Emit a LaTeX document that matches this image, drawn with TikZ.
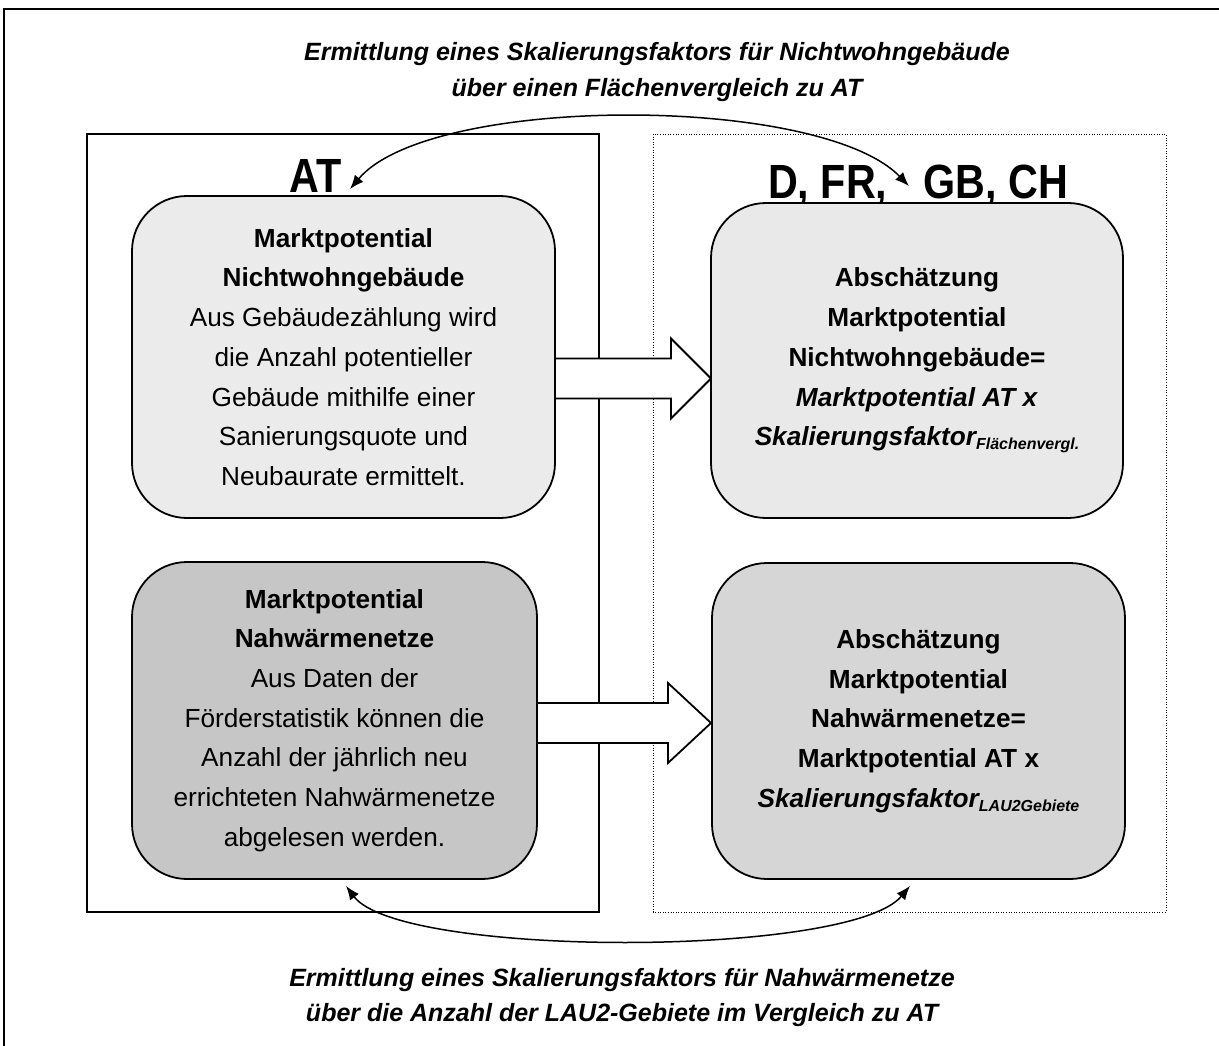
\documentclass[tikz,border=0pt]{standalone}
\usepackage{fontspec}
\setmainfont{Liberation Sans}
\newfontfamily\narrowbold[FakeStretch=0.86]{Liberation Sans Bold}
\usetikzlibrary{arrows.meta}
\definecolor{fillA}{RGB}{235,235,235}
\definecolor{fillB}{RGB}{233,233,233}
\definecolor{fillC}{RGB}{198,198,198}
\definecolor{fillD}{RGB}{214,214,214}
\tikzset{
  box/.style={draw=black, line width=1.8pt, rounded corners=55pt, inner sep=0pt,
    align=center, font=\fontsize{26.2}{39.7}\selectfont},
  biglabel/.style={font=\narrowbold\fontsize{48}{52}\selectfont, inner sep=0pt},
  titletext/.style={font=\bfseries\itshape\fontsize{25}{38}\selectfont, align=center, inner sep=0pt},
  hollow/.style={draw=black, fill=white, line width=1.8pt, line join=miter},
  link/.style={line width=1.5pt, {Latex[length=14pt,width=11pt]}-{Latex[length=14pt,width=11pt]}},
}
\begin{document}
\begin{tikzpicture}[x=1pt,y=-1pt]
\clip (0,0) rectangle (1219,1046);
\useasboundingbox (0,0) rectangle (1219,1046);
% outer frame (extends beyond page)
\draw[line width=2.5pt] (4,1080) -- (4,9) -- (1260,9);
% group frames
\draw[line width=1.8pt] (87,134) rectangle (599,912);
\draw[line width=0.9pt, dash pattern=on 1pt off 1.6pt] (653,134) rectangle (1166,912);
% titles
\node[titletext, anchor=base] (t1) at (657,61) {Ermittlung eines Skalierungsfaktors für Nichtwohngebäude};
\node[titletext, anchor=base] (t2) at (657,97) {über einen Flächenvergleich zu AT};
\node[titletext, anchor=base] (t3) at (622,986) {Ermittlung eines Skalierungsfaktors für Nahwärmenetze};
\node[titletext, anchor=base] (t4) at (622,1021) {über die Anzahl der LAU2-Gebiete im Vergleich zu AT};
% labels
\node[biglabel, anchor=base] (at) at (315.5,193) {AT};
\node[biglabel, anchor=base] (dl) at (918,198) {D, FR,\hspace{36pt}GB, CH};
% box centres
\coordinate (b1c) at (343.5,357);
\coordinate (b2c) at (917,360.5);
\coordinate (b3c) at (334.5,720.5);
\coordinate (b4c) at (918.5,721);
% hollow arrows (drawn below boxes)
\coordinate (tip1) at (711,378.5);
\coordinate (tip2) at (711,723);
\draw[hollow] (tip1) -- ++(-40,-40) -- ++(0,20) -- ++(-140,0) -- ++(0,40) -- ++(140,0) -- ++(0,20) -- cycle;
\draw[hollow] (tip2) -- ++(-43,-40) -- ++(0,20) -- ++(-150,0) -- ++(0,40) -- ++(150,0) -- ++(0,20) -- cycle;
% boxes
\node[box, fill=fillA, minimum width=423pt, minimum height=322pt] (b1) at (b1c)
  {\textbf{Marktpotential}\\ \textbf{Nichtwohngebäude}\\ Aus Gebäudezählung wird\\ die Anzahl potentieller\\ Gebäude mithilfe einer\\ Sanierungsquote und\\ Neubaurate ermittelt.};
\node[box, fill=fillB, minimum width=412pt, minimum height=315pt] (b2) at (b2c)
  {\textbf{Abschätzung}\\ \textbf{Marktpotential}\\ \textbf{Nichtwohngebäude=}\\ \textbf{\itshape Marktpotential AT x}\\ \textbf{\itshape Skalierungsfaktor\raisebox{-4pt}{\fontsize{16}{16}\selectfont Flächenvergl.}}};
\node[box, fill=fillC, minimum width=405pt, minimum height=317pt] (b3) at (b3c)
  {\textbf{Marktpotential}\\ \textbf{Nahwärmenetze}\\ Aus Daten der\\ Förderstatistik können die\\ Anzahl der jährlich neu\\ errichteten Nahwärmenetze\\ abgelesen werden.};
\node[box, fill=fillD, minimum width=413pt, minimum height=316pt] (b4) at (b4c)
  {\textbf{Abschätzung}\\ \textbf{Marktpotential}\\ \textbf{Nahwärmenetze=}\\ \textbf{Marktpotential AT x}\\ \textbf{\itshape Skalierungsfaktor\raisebox{-4pt}{\fontsize{16}{16}\selectfont LAU2Gebiete}}};
% curved double arrows
\coordinate (e1) at ([xshift=6.5pt,yshift=6pt]b1.north);
\coordinate (e2) at ([xshift=-8pt,yshift=16pt]b2.north);
\coordinate (e3) at ([xshift=11.5pt,yshift=-6pt]b3.south);
\coordinate (e4) at ([xshift=-8.5pt,yshift=-6pt]b4.south);
\draw[link] (e1) .. controls +(80,-95) and +(-89,-92) .. (e2);
\draw[link] (e3) .. controls +(54,72) and +(-60,72) .. (e4);
\end{tikzpicture}
\end{document}
